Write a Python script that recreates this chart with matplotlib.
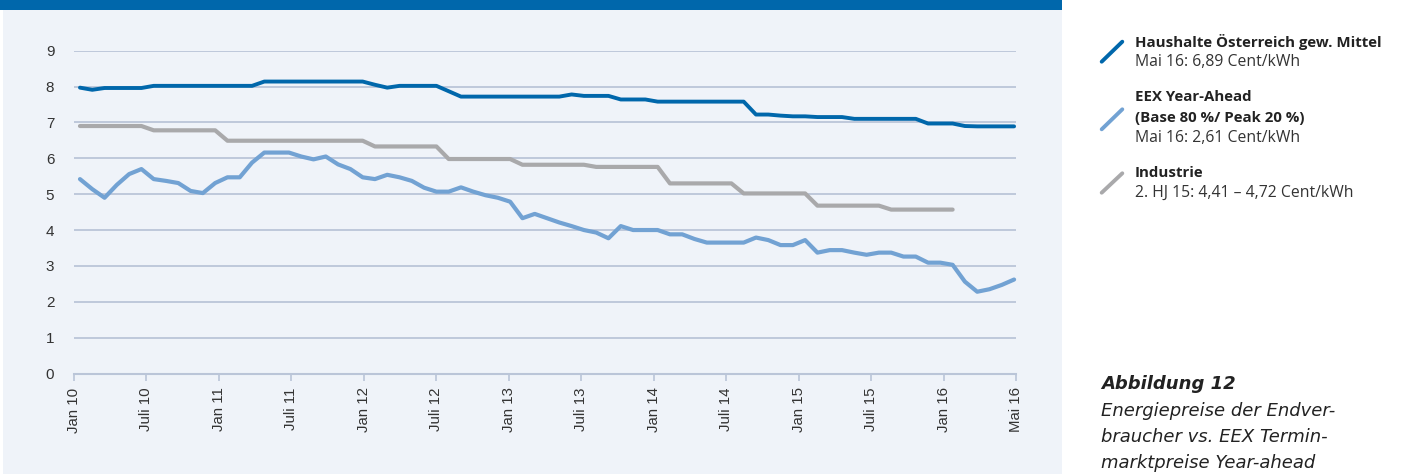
import matplotlib
matplotlib.use("Agg")
import matplotlib.pyplot as plt
import numpy as np
from matplotlib.patches import Rectangle
from matplotlib.lines import Line2D

# ---------------- data (monthly, Jan 10 .. Mai 16) ----------------
households = [7.97, 7.91, 7.96, 7.96, 7.96, 7.96,
              8.02, 8.02, 8.02, 8.02, 8.02, 8.02, 8.02, 8.02, 8.02,
              8.14, 8.14, 8.14, 8.14, 8.14, 8.14, 8.14, 8.14, 8.14,
              8.05, 7.97, 8.02, 8.02, 8.02, 8.02, 7.87,
              7.72, 7.72, 7.72, 7.72, 7.72, 7.72, 7.72, 7.72, 7.72,
              7.78, 7.74, 7.74, 7.74, 7.64, 7.64, 7.64,
              7.58, 7.58, 7.58, 7.58, 7.58, 7.58, 7.58, 7.58,
              7.22, 7.22, 7.19, 7.17, 7.17, 7.15, 7.15, 7.15,
              7.10, 7.10, 7.10, 7.10, 7.10, 7.10,
              6.97, 6.97, 6.97, 6.90, 6.89, 6.89, 6.89, 6.89]

eex = [5.42, 5.14, 4.90, 5.26, 5.56, 5.70, 5.42, 5.37, 5.31, 5.09,
       5.03, 5.31, 5.47, 5.47, 5.88, 6.16, 6.16, 6.16, 6.05, 5.97,
       6.05, 5.83, 5.70, 5.47, 5.42, 5.54, 5.47, 5.37, 5.18, 5.07,
       5.07, 5.19, 5.07, 4.97, 4.90, 4.79, 4.33, 4.45, 4.33, 4.21,
       4.11, 4.00, 3.93, 3.77, 4.11, 4.00, 4.00, 4.00, 3.88, 3.88,
       3.75, 3.65, 3.65, 3.65, 3.65, 3.79, 3.72, 3.58, 3.58, 3.72,
       3.37, 3.44, 3.44, 3.37, 3.31, 3.37, 3.37, 3.26, 3.26, 3.09,
       3.09, 3.03, 2.56, 2.28, 2.35, 2.47, 2.62]

industry = [6.90, 6.90, 6.90, 6.90, 6.90, 6.90,
            6.78, 6.78, 6.78, 6.78, 6.78, 6.78,
            6.49, 6.49, 6.49, 6.49, 6.49, 6.49, 6.49, 6.49, 6.49, 6.49, 6.49, 6.49,
            6.33, 6.33, 6.33, 6.33, 6.33, 6.33,
            5.98, 5.98, 5.98, 5.98, 5.98, 5.98,
            5.82, 5.82, 5.82, 5.82, 5.82, 5.82,
            5.76, 5.76, 5.76, 5.76, 5.76, 5.76,
            5.30, 5.30, 5.30, 5.30, 5.30, 5.30,
            5.02, 5.02, 5.02, 5.02, 5.02, 5.02,
            4.68, 4.68, 4.68, 4.68, 4.68, 4.68,
            4.57, 4.57, 4.57, 4.57, 4.57, 4.57,
            np.nan, np.nan, np.nan, np.nan, np.nan]

tick_labels = ["Jan 10", "Juli 10", "Jan 11", "Juli 11", "Jan 12", "Juli 12",
               "Jan 13", "Juli 13", "Jan 14", "Juli 14", "Jan 15", "Juli 15",
               "Jan 16", "Mai 16"]
y_ticks = [0, 1, 2, 3, 4, 5, 6, 7, 8, 9]

caption_title = "Abbildung 12"
caption_lines = ["Energiepreise der Endver-", "braucher vs. EEX Termin-",
                 "marktpreise Year-ahead"]

# ---------------- style ----------------
C_HH = "#0067AB"
C_EEX = "#72A2D3"
C_IND = "#A9A9AB"
C_GRID = "#BAC5D8"
C_PANEL = "#EFF3F9"
C_TEXT = "#333333"

W, H = 1403, 474
DPI = 100
fig = plt.figure(figsize=(W / DPI, H / DPI), dpi=DPI)
fig.patch.set_facecolor("white")

def fx(px):
    return px / W

def fy(py):
    return 1 - py / H

# panel background and top bar
fig.patches.append(Rectangle((fx(3), 0), fx(1062) - fx(3), fy(10), transform=fig.transFigure,
                             facecolor=C_PANEL, edgecolor="none", zorder=-10))
fig.patches.append(Rectangle((fx(0), fy(10)), fx(1062), 1 - fy(10), transform=fig.transFigure,
                             facecolor=C_HH, edgecolor="none", zorder=-10))

# axes: left 73.7px, right 1016.3px, y0 373.5px, y9 50.7px
ax = fig.add_axes([fx(73.7), fy(373.5), fx(1016.3) - fx(73.7), fy(50.7) - fy(373.5)])
ax.set_facecolor("none")
ax.set_zorder(5)

x = np.arange(len(eex))
ax.plot(x, industry, color=C_IND, lw=3.0, solid_capstyle="round", solid_joinstyle="round",
        zorder=3, clip_on=False)
ax.plot(x, eex, color=C_EEX, lw=3.0, solid_capstyle="round", solid_joinstyle="round",
        zorder=4, clip_on=False)
ax.plot(x, households, color=C_HH, lw=2.8, solid_capstyle="round", solid_joinstyle="round",
        zorder=5, clip_on=False)

x0, x1 = -0.51, 76.18
ax.set_xlim(x0, x1)
ax.set_ylim(0, 9)

for v in y_ticks[1:]:
    ax.axhline(v, color=C_GRID, lw=1.3, zorder=1)

ax.set_yticks(y_ticks)
ax.set_yticklabels([str(v) for v in y_ticks], fontsize=11, color=C_TEXT,
                   family="Liberation Sans")
ax.tick_params(axis="y", length=0, pad=14)

ax.set_xticks(np.linspace(x0, x1, len(tick_labels)))
ax.set_xticklabels(tick_labels, rotation=90, fontsize=10.8, color=C_TEXT,
                   family="Liberation Sans", va="top", ha="center")
ax.tick_params(axis="x", length=5, width=1.2, color=C_GRID, pad=5)

for s in ["top", "right", "left"]:
    ax.spines[s].set_visible(False)
ax.spines["bottom"].set_color(C_GRID)
ax.spines["bottom"].set_linewidth(1.5)

# ---------------- legend ----------------
LEG_FONT = "Open Sans"
icons = [(C_HH, 61.7, 41.7), (C_EEX, 129.3, 109.3), (C_IND, 192.7, 173.3)]
for col, yb, yt in icons:
    fig.add_artist(Line2D([fx(1101.7), fx(1122.3)], [fy(yb), fy(yt)], color=col, lw=2.8,
                          solid_capstyle="round", transform=fig.transFigure))

tx = fx(1135)
legend_rows = [
    (42, "Haushalte Österreich gew. Mittel", "bold"),
    (62, "Mai 16: 6,89 Cent/kWh", "normal"),
    (97, "EEX Year-Ahead", "bold"),
    (118, "(Base 80 %/ Peak 20 %)", "bold"),
    (138, "Mai 16: 2,61 Cent/kWh", "normal"),
    (173, "Industrie", "bold"),
    (193, "2. HJ 15: 4,41 – 4,72 Cent/kWh", "normal"),
]
for py, txt, wt in legend_rows:
    fig.text(tx, fy(py), txt, fontsize=10.8 if wt == "bold" else 11.3, weight=wt,
             family=LEG_FONT, color="#222222" if wt == "bold" else C_TEXT, va="center")

# ---------------- caption ----------------
CAP_FONT = "DejaVu Sans"
cx = fx(1101)
fig.text(cx, fy(384), caption_title, fontsize=13, weight="bold", style="italic",
         family=CAP_FONT, color="#222222", va="center")
for i, line in enumerate(caption_lines):
    fig.text(cx, fy(410.5 + 26 * i), line, fontsize=13, style="italic",
             family=CAP_FONT, color="#222222", va="center")

fig.savefig("out.png", dpi=DPI, facecolor="white")
